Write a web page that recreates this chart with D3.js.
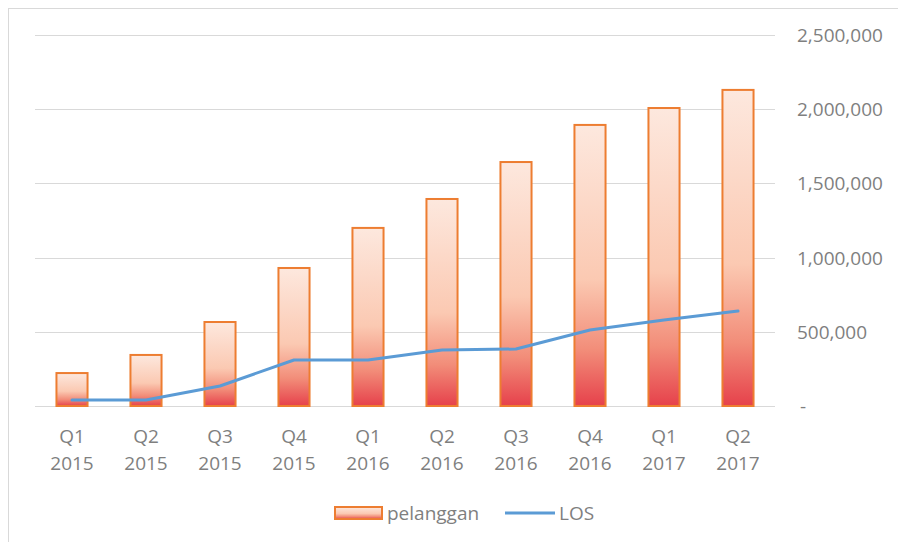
<!DOCTYPE html>
<html>
<head>
<meta charset="utf-8">
<script src="https://cdn.jsdelivr.net/npm/d3@7"></script>
<style>
  body { margin: 0; background: #fff; }
  text { font-family: "Open Sans", "Noto Sans", sans-serif; fill: #7f7f7f; }
</style>
</head>
<body>
<div id="vis"></div>
<script>
var quarters = ["Q1", "Q2", "Q3", "Q4", "Q1", "Q2", "Q3", "Q4", "Q1", "Q2"];
var years = ["2015", "2015", "2015", "2015", "2016", "2016", "2016", "2016", "2017", "2017"];
var pelanggan = [222000, 344000, 566000, 930000, 1200000, 1395000, 1644000, 1894000, 2008000, 2130000];
var los = [40000, 40000, 135000, 310000, 310000, 377000, 384000, 512000, 580000, 640000];
var yTicks = [0, 500000, 1000000, 1500000, 2000000, 2500000];

var width = 898;
var height = 542;

var svg = d3.select("#vis")
    .append("svg")
    .attr("width", width)
    .attr("height", height);

// chart frame
svg.append("rect")
    .attr("x", 8.5)
    .attr("y", 8.5)
    .attr("width", 1000)
    .attr("height", 1000)
    .attr("fill", "none")
    .attr("stroke", "#d9d9d9");

var defs = svg.append("defs");
var grad = defs.append("linearGradient")
    .attr("id", "barGrad")
    .attr("x1", 0).attr("y1", 0)
    .attr("x2", 0).attr("y2", 1);
grad.append("stop").attr("offset", "0%").attr("stop-color", "#fde8de");
grad.append("stop").attr("offset", "55%").attr("stop-color", "#fbc9b2");
grad.append("stop").attr("offset", "80%").attr("stop-color", "#f28d79");
grad.append("stop").attr("offset", "100%").attr("stop-color", "#e6414b");

var plot = { left: 35, right: 775, top: 35, bottom: 406 };

var xscale = d3.scaleBand()
    .domain(d3.range(pelanggan.length))
    .range([plot.left, plot.right])
    .paddingInner(0.58)
    .paddingOuter(0.29);

var yscale = d3.scaleLinear()
    .domain([0, 2500000])
    .range([plot.bottom, plot.top]);

// gridlines
svg.append("g")
    .selectAll("line")
    .data(yTicks)
    .enter()
    .append("line")
    .attr("x1", plot.left)
    .attr("x2", plot.right)
    .attr("y1", function (d) { return Math.round(yscale(d)) + 0.5; })
    .attr("y2", function (d) { return Math.round(yscale(d)) + 0.5; })
    .attr("stroke", "#d9d9d9")
    .attr("stroke-width", 1);

// right axis labels
var fmt = d3.format(",");
svg.append("g")
    .selectAll("text")
    .data(yTicks)
    .enter()
    .append("text")
    .attr("x", function (d) { return d === 0 ? 800 : 797; })
    .attr("y", function (d) { return yscale(d) + 7; })
    .attr("font-size", 19)
    .text(function (d) { return d === 0 ? "-" : fmt(d); });

// bars
svg.append("g")
    .selectAll("rect")
    .data(pelanggan)
    .enter()
    .append("rect")
    .attr("x", function (d, i) { return xscale(i); })
    .attr("y", function (d) { return yscale(d); })
    .attr("width", xscale.bandwidth())
    .attr("height", function (d) { return plot.bottom - yscale(d); })
    .attr("fill", "url(#barGrad)")
    .attr("stroke", "#ed7d31")
    .attr("stroke-width", 2);

// LOS line
var line = d3.line()
    .x(function (d, i) { return xscale(i) + xscale.bandwidth() / 2; })
    .y(function (d) { return yscale(d); });

svg.append("path")
    .datum(los)
    .attr("d", line)
    .attr("fill", "none")
    .attr("stroke", "#5b9bd5")
    .attr("stroke-width", 3)
    .attr("stroke-linejoin", "round")
    .attr("stroke-linecap", "round");

// category labels
var cats = svg.append("g")
    .selectAll("text")
    .data(quarters)
    .enter()
    .append("text")
    .attr("text-anchor", "middle")
    .attr("font-size", 19)
    .attr("x", function (d, i) { return xscale(i) + xscale.bandwidth() / 2; })
    .attr("y", 443);
cats.append("tspan").text(function (d) { return d; });
cats.append("tspan")
    .attr("x", function (d, i) { return xscale(i) + xscale.bandwidth() / 2; })
    .attr("dy", 27)
    .text(function (d, i) { return years[i]; });

// legend
var legend = svg.append("g");
legend.append("rect")
    .attr("x", 335)
    .attr("y", 507)
    .attr("width", 47)
    .attr("height", 12)
    .attr("fill", "url(#barGrad)")
    .attr("stroke", "#ed7d31")
    .attr("stroke-width", 2);
legend.append("text")
    .attr("x", 387)
    .attr("y", 520)
    .attr("font-size", 19)
    .text("pelanggan");
legend.append("line")
    .attr("x1", 505)
    .attr("x2", 555)
    .attr("y1", 513)
    .attr("y2", 513)
    .attr("stroke", "#5b9bd5")
    .attr("stroke-width", 3);
legend.append("text")
    .attr("x", 559)
    .attr("y", 520)
    .attr("font-size", 19)
    .text("LOS");
</script>
</body>
</html>
